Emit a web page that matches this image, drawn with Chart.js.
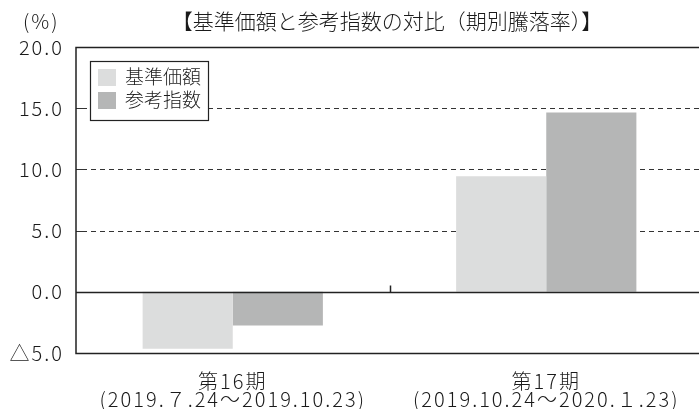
<!DOCTYPE html>
<html><head><meta charset="utf-8">
<script src="https://cdn.jsdelivr.net/npm/chart.js@4/dist/chart.umd.min.js"></script>
<style>html,body{margin:0;padding:0;overflow:hidden;background:#fff;width:699px;height:409px}canvas{display:block}</style>
</head><body>
<canvas id="c" width="706" height="409"></canvas>
<script>
const categories = [['第16期','(2019.７.24～2019.10.23)'], ['第17期','(2019.10.24～2020.１.23)']];
const seriesNames = ['基準価額', '参考指数'];
const fundValues = [-4.65, 9.45];
const indexValues = [-2.75, 14.65];
const yTicks = [-5, 0, 5, 10, 15, 20];
const titleText = '【基準価額と参考指数の対比（期別騰落率）】';
const unitText = '(%)';

const FONT = '"Noto Sans CJK JP", "Noto Sans", sans-serif';
const W = '300';
const TXT = '#1a1a1a';

const decor = {
  id: 'decor',
  beforeDraw(chart) {
    chart.ctx.letterSpacing = '2px';
  },
  beforeDatasetsDraw(chart) {
    const {ctx, chartArea: a, scales: {y}} = chart;
    ctx.save();
    ctx.strokeStyle = '#333';
    ctx.lineWidth = 1;
    yTicks.forEach(v => {
      if (v === 0 || v === yTicks[0] || v === yTicks[yTicks.length-1]) return;
      const py = Math.round(y.getPixelForValue(v)) + 0.5;
      ctx.setLineDash([]);
      ctx.beginPath(); ctx.moveTo(a.left, py); ctx.lineTo(a.left + 6, py); ctx.stroke();
      ctx.setLineDash([5, 4]);
      ctx.beginPath(); ctx.moveTo(a.left + 6, py); ctx.lineTo(a.right, py); ctx.stroke();
    });
    ctx.restore();
  },
  afterDatasetsDraw(chart) {
    const {ctx, chartArea: a, scales: {x, y}} = chart;
    ctx.save();
    ctx.strokeStyle = '#222';
    ctx.lineWidth = 1.5;
    ctx.setLineDash([]);
    const zy = Math.round(y.getPixelForValue(0)) + 0.5;
    ctx.beginPath(); ctx.moveTo(a.left, zy); ctx.lineTo(a.right, zy); ctx.stroke();
    const cx = Math.round((x.getPixelForValue(0) + x.getPixelForValue(1)) / 2) + 0.5;
    ctx.beginPath(); ctx.moveTo(cx, zy); ctx.lineTo(cx, zy - 7); ctx.stroke();
    const ty = Math.round(y.getPixelForValue(yTicks[yTicks.length-1])) + 0.5;
    const by = Math.round(y.getPixelForValue(yTicks[0])) + 0.5;
    ctx.beginPath();
    ctx.moveTo(a.right + 5, ty); ctx.lineTo(a.left, ty); ctx.lineTo(a.left, by); ctx.lineTo(a.right + 5, by);
    ctx.stroke();
    // legend
    const lx = 90.5, ly = 61.5, lw = 118, lh = 59;
    ctx.fillStyle = '#fff';
    ctx.fillRect(lx, ly, lw, lh);
    ctx.lineWidth = 1.2;
    ctx.strokeStyle = '#222';
    ctx.strokeRect(lx, ly, lw, lh);
    ctx.letterSpacing = '0px';
    ctx.font = W + ' 19px ' + FONT;
    ctx.textBaseline = 'middle';
    ctx.textAlign = 'left';
    chart.data.datasets.forEach((ds, i) => {
      const rowY = 77 + i * 23;
      ctx.fillStyle = ds.backgroundColor;
      ctx.fillRect(98, rowY - 8, 18, 17);
      ctx.fillStyle = TXT;
      ctx.fillText(ds.label, 125, rowY);
    });
    ctx.restore();
  },
  afterDraw(chart) {
    const {ctx} = chart;
    ctx.save();
    ctx.fillStyle = TXT;
    ctx.textBaseline = 'middle';
    ctx.textAlign = 'center';
    ctx.letterSpacing = '0px';
    ctx.font = W + ' 21px ' + FONT;
    ctx.fillText(titleText, 387, 21);
    ctx.font = W + ' 20px ' + FONT;
    ctx.letterSpacing = '2px';
    ctx.textAlign = 'left';
    ctx.fillText(unitText, 23, 21);
    ctx.restore();
  }
};

new Chart(document.getElementById('c'), {
  type: 'bar',
  data: {
    labels: categories,
    datasets: [
      {label: seriesNames[0], data: fundValues, backgroundColor: '#dcdddd', borderWidth: 0},
      {label: seriesNames[1], data: indexValues, backgroundColor: '#b5b6b6', borderWidth: 0}
    ]
  },
  options: {
    responsive: false,
    animation: false,
    events: [],
    layout: {padding: {top: 47, right: 3, left: 0, bottom: 0}},
    plugins: {legend: {display: false}, title: {display: false}, tooltip: {enabled: false}},
    datasets: {bar: {barPercentage: 1, categoryPercentage: 0.575}},
    scales: {
      y: {
        min: -5, max: 20,
        afterFit(s) { s.width = 76; },
        afterBuildTicks(s) { s.ticks = yTicks.map(v => ({value: v})); },
        grid: {display: false, drawTicks: false},
        border: {display: false},
        ticks: {
          padding: 12,
          color: TXT,
          font: {size: 20, family: FONT, weight: W},
          callback: v => (v < 0 ? '△' + Math.abs(v).toFixed(1) : v.toFixed(1))
        }
      },
      x: {
        afterFit(s) { s.height = 56; },
        grid: {display: false, drawTicks: false},
        border: {display: false},
        ticks: {
          padding: 19,
          color: TXT,
          maxRotation: 0,
          autoSkip: false,
          font: {size: 20, family: FONT, weight: W, lineHeight: 0.9}
        }
      }
    }
  },
  plugins: [decor]
});
</script>
</body></html>
